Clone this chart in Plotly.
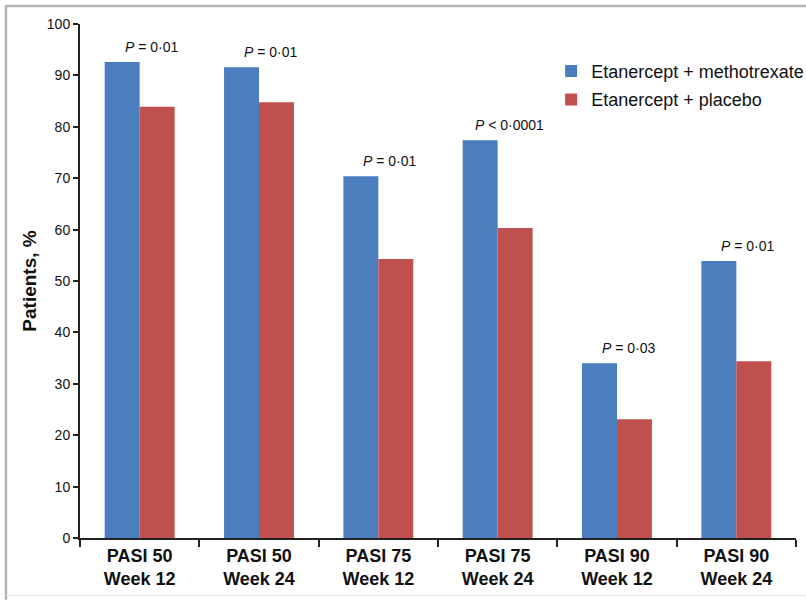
import plotly.graph_objects as go

categories = ["PASI 50<br>Week 12", "PASI 50<br>Week 24", "PASI 75<br>Week 12",
              "PASI 75<br>Week 24", "PASI 90<br>Week 12", "PASI 90<br>Week 24"]
mtx_values = [92.6, 91.6, 70.4, 77.4, 34.0, 53.9]
placebo_values = [83.9, 84.8, 54.3, 60.3, 23.1, 34.4]
p_labels = ["<i>P</i> = 0·01", "<i>P</i> = 0·01", "<i>P</i> = 0·01",
            "<i>P</i> < 0·0001", "<i>P</i> = 0·03", "<i>P</i> = 0·01"]
y_ticks = list(range(0, 101, 10))

BLUE = "#4a7ebf"
RED = "#c0504d"
FONT = "Liberation Sans, Arial, sans-serif"

fig = go.Figure()
fig.add_trace(go.Bar(x=categories, y=mtx_values, name="Etanercept + methotrexate",
                     legendgroup="a", marker=dict(color=BLUE, line=dict(width=0))))
fig.add_trace(go.Bar(x=categories, y=placebo_values, name="Etanercept + placebo",
                     legendgroup="b", marker=dict(color=RED, line=dict(width=0))))

for cat, val, lab in zip(categories, mtx_values, p_labels):
    fig.add_annotation(x=cat, y=val, text=lab, showarrow=False, xanchor="center",
                       yanchor="bottom", xshift=12, yshift=5,
                       font=dict(family=FONT, size=14, color="#111"))

# outer frame
fig.add_shape(type="line", xref="paper", yref="paper", x0=-0.1034, x1=1.05, y0=1.035, y1=1.035,
              line=dict(color="#b3b3b3", width=2.5))
fig.add_shape(type="line", xref="paper", yref="paper", x0=-0.1034, x1=-0.1034, y0=-0.12, y1=1.037,
              line=dict(color="#b3b3b3", width=2.5))
fig.add_shape(type="line", xref="paper", yref="paper", x0=-0.1034, x1=1.05, y0=-0.112, y1=-0.112,
              line=dict(color="#e6e6e6", width=1))

fig.update_layout(
    width=806, height=600,
    margin=dict(l=80, r=10, t=24, b=62, autoexpand=False),
    paper_bgcolor="white", plot_bgcolor="white",
    barmode="group", bargap=0.414, bargroupgap=0,
    font=dict(family=FONT, color="#111"),
    showlegend=True,
    legend=dict(x=0.658, y=0.944, xanchor="left", yanchor="top",
                font=dict(family=FONT, size=18, color="#111"),
                bgcolor="rgba(0,0,0,0)", itemwidth=30,
                traceorder="grouped", tracegroupgap=2),
    xaxis=dict(showline=True, linecolor="#222", linewidth=2, ticks="outside",
               tickson="boundaries", ticklen=7, tickwidth=2, tickcolor="#222",
               tickfont=dict(family=FONT, size=18, color="#111", weight="bold"),
               showgrid=False, zeroline=False),
    yaxis=dict(range=[0, 100], tickvals=y_ticks, showline=True, linecolor="#222", linewidth=2,
               ticks="outside", ticklen=5, tickwidth=2, tickcolor="#222",
               tickfont=dict(family=FONT, size=14, color="#111"),
               showgrid=False, zeroline=False,
               title=dict(text="<b>Patients, %</b>", font=dict(family=FONT, size=19, color="#111"),
                          standoff=5)),
)

fig.write_html("out.html", config={"displayModeBar": False},
               post_script="document.body.style.margin='0px';")
